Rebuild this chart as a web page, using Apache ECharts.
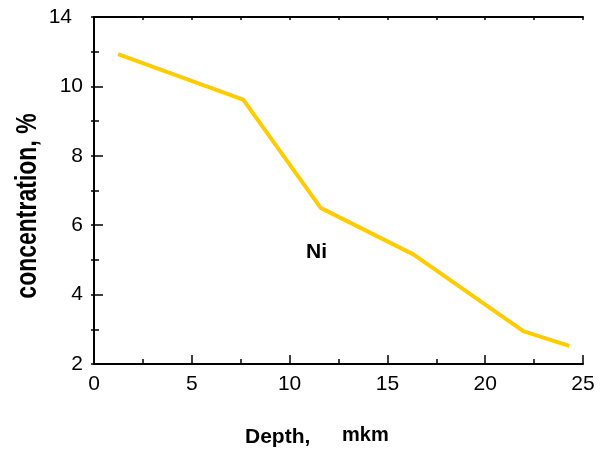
<!DOCTYPE html>
<html><head><meta charset="utf-8">
<script src="https://cdn.jsdelivr.net/npm/echarts@6/dist/echarts.min.js"></script>
<style>html,body{margin:0;padding:0;background:#fff}#c{width:606px;height:454px}</style>
</head><body><div id="c"></div>
<script>
var depth = [1.23, 7.63, 11.59, 16.33, 21.95, 24.3];
var niConc = [10.93, 9.62, 6.50, 5.16, 2.95, 2.52];
var yTickValues = [2, 4, 6, 8, 10, 12];
var yTickLabels = ['2', '4', '6', '8', '10', '14'];
var xTickValues = [0, 5, 10, 15, 20, 25];
var xTickLabels = ['0', '5', '10', '15', '20', '25'];
var seriesName = 'Ni';
var xTitle = 'Depth,';
var xUnit = 'mkm';
var yTitle = 'concentration, %';

var FONT = '"Liberation Sans", Arial, sans-serif';
var chart = echarts.init(document.getElementById('c'), null, {renderer: 'canvas'});
var axLine = {show: true, lineStyle: {color: '#000', width: 2}};
var tickStyle = {color: '#000', width: 1.5};
function yFmt(v) {
  var i = yTickValues.indexOf(v);
  if (i < 0) return '';
  return i === yTickValues.length - 1 ? '{t|' + yTickLabels[i] + '}' : yTickLabels[i];
}
function xFmt(v) { var i = xTickValues.indexOf(v); return i >= 0 ? xTickLabels[i] : ''; }
function bare(ax) {
  ax.splitLine = {show: false};
  ax.axisLabel = {show: false};
  return ax;
}
chart.setOption({
  animation: false,
  grid: {left: 94, right: 23, top: 17, bottom: 90, containLabel: false},
  xAxis: [{
    type: 'value', min: 0, max: 25, interval: 5, position: 'bottom',
    axisLine: axLine,
    axisTick: {show: true, inside: true, length: 9, lineStyle: tickStyle},
    splitLine: {show: false},
    axisLabel: {formatter: xFmt, color: '#000', fontFamily: FONT, fontSize: 21, margin: 10}
  },
  bare({type: 'value', min: 0, max: 25, interval: 2.5, position: 'bottom',
    axisLine: {show: false},
    axisTick: {show: true, inside: true, length: 5, lineStyle: tickStyle}}),
  bare({type: 'value', min: 0, max: 25, interval: 2.5, position: 'top',
    axisLine: axLine,
    axisTick: {show: true, inside: true, length: 3, lineStyle: tickStyle}})
  ],
  yAxis: [{
    type: 'value', min: 2, max: 12, interval: 2, position: 'left',
    axisLine: axLine,
    axisTick: {show: true, inside: true, length: 9, lineStyle: tickStyle},
    splitLine: {show: false},
    axisLabel: {formatter: yFmt, color: '#000', fontFamily: FONT, fontSize: 21, margin: 11,
      rich: {t: {fontFamily: FONT, fontSize: 21, color: '#000', padding: [0, 11, 0, 0]}}}
  },
  bare({type: 'value', min: 2, max: 12, interval: 1, position: 'left',
    axisLine: {show: false},
    axisTick: {show: true, inside: true, length: 5, lineStyle: tickStyle}}),
  bare({type: 'value', min: 2, max: 12, interval: 1, position: 'right',
    axisLine: axLine,
    axisTick: {show: true, inside: true, length: 3, lineStyle: tickStyle}})
  ],
  graphic: [
    {type: 'text', x: 28, y: 206, rotation: Math.PI / 2, scaleX: 1, scaleY: 1.25,
      style: {text: yTitle, fill: '#000', font: 'bold 23px ' + FONT, textAlign: 'center', textVerticalAlign: 'middle'}},
    {type: 'text', left: 245, top: 427, style: {text: xTitle, fill: '#000', font: 'bold 21px ' + FONT}},
    {type: 'text', left: 342, top: 425, style: {text: xUnit, fill: '#000', font: 'bold 20px ' + FONT}},
    {type: 'text', left: 306, top: 242, style: {text: seriesName, fill: '#000', font: 'bold 21px ' + FONT}}
  ],
  series: [{
    type: 'line', name: seriesName, xAxisIndex: 0, yAxisIndex: 0,
    data: depth.map(function (d, i) { return [d, niConc[i]]; }),
    showSymbol: false, symbol: 'none',
    lineStyle: {color: '#FFCC00', width: 4}
  }]
});
</script></body></html>
